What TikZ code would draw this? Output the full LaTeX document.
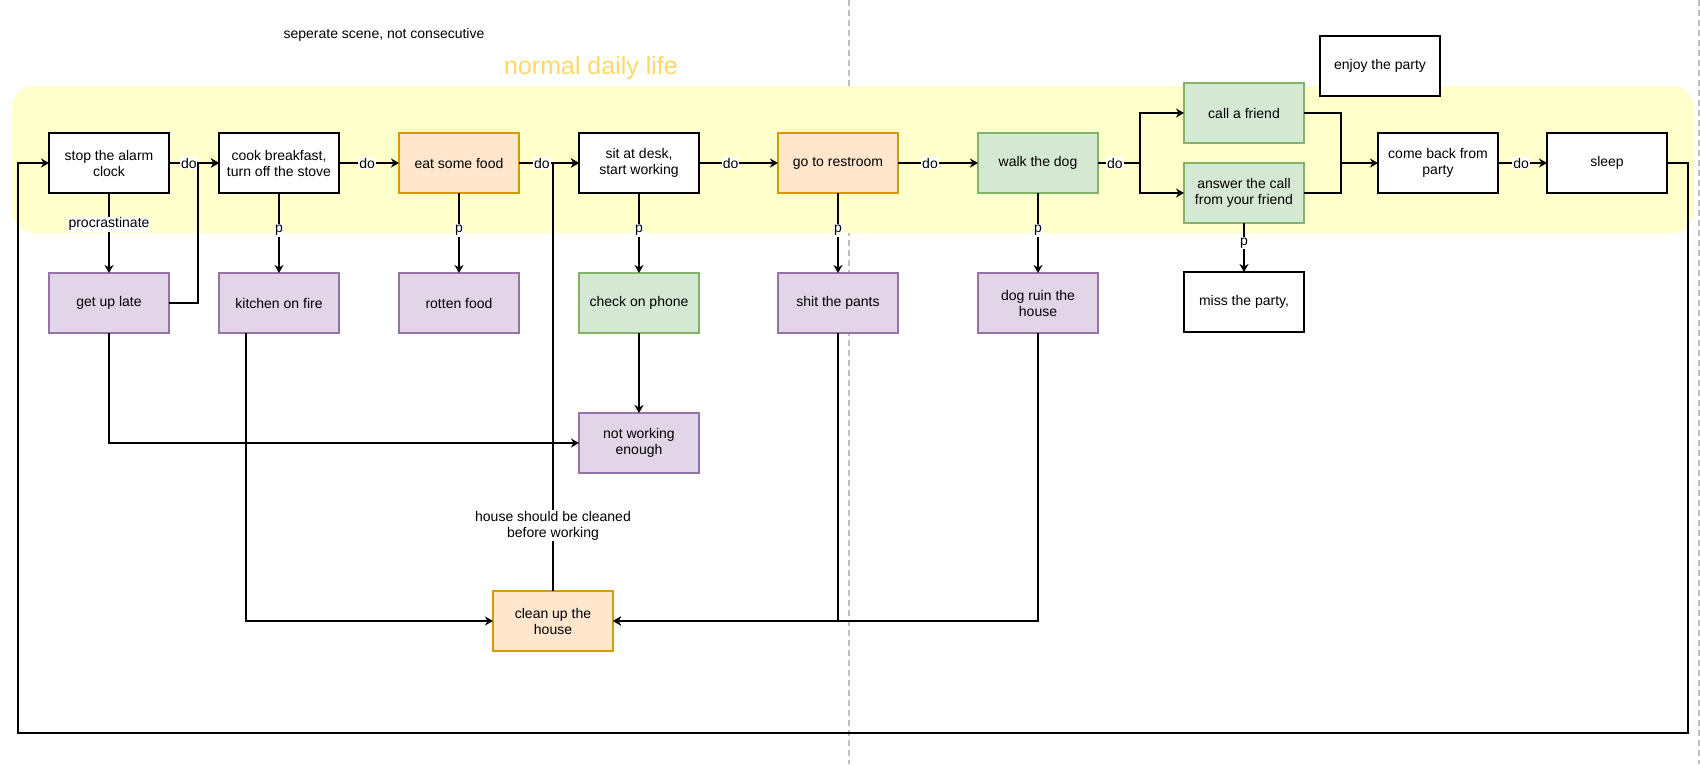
\documentclass[tikz,border=0pt]{standalone}
\usepackage{fontspec}
\setmainfont{Liberation Sans}
\usepackage{tikz}
\usetikzlibrary{arrows.meta,positioning,calc}
\definecolor{ink}{HTML}{000000}
\definecolor{lanebg}{HTML}{FFFFCC}
\definecolor{lanetitle}{HTML}{FFD966}
\definecolor{divgray}{HTML}{BFBFBF}
\definecolor{mauve}{HTML}{9673A6}
\definecolor{mauvebg}{HTML}{E1D5E7}
\definecolor{ochre}{HTML}{D79B00}
\definecolor{ochrebg}{HTML}{FFE6CC}
\definecolor{sage}{HTML}{82B366}
\definecolor{sagebg}{HTML}{D5E8D4}
\tikzset{
  every node/.style={font=\fontsize{14}{16}\selectfont,text=ink},
  act/.style={draw=ink,fill=white,line width=1.8pt,align=center,minimum width=120pt,minimum height=60pt,inner sep=2pt,outer sep=0pt},
  bad/.style={act,fill=mauvebg,draw=mauve},
  risky/.style={act,fill=ochrebg,draw=ochre},
  good/.style={act,fill=sagebg,draw=sage},
  arrow/.style={-{Stealth[length=8pt,width=9pt,inset=2.5pt]},line width=1.8pt,draw=ink},
  link/.style={line width=1.8pt,draw=ink},
  labelbox/.style={fill=white,inner sep=1pt,align=center},
  lane/.style={fill=lanebg,rounded corners=22pt,minimum width=1682pt,minimum height=147pt},
  divider/.style={draw=divgray,line width=2pt,dash pattern=on 6pt off 4pt}
}

\begin{document}
\begin{tikzpicture}[x=1pt,y=-1pt]
  \useasboundingbox (0,0) rectangle (1700,764);
  \draw[divider] (849,0) -- (849,764);
  \draw[divider] (1699,0) -- (1699,764);
  \node[lane] (life) at (853,159.5) {};
  \node (scene) at (384,35) {seperate scene, not consecutive};
  \node[font=\fontsize{25}{30}\selectfont,text=lanetitle] (lifetitle) at (591,68) {normal daily life};

  \node[act] (stop) at (109,163) {stop the alarm\\clock};
  \node[act,right=50pt of stop] (cook) {cook breakfast,\\turn off the stove};
  \node[risky,right=60pt of cook] (eat) {eat some food};
  \node[act,right=60pt of eat] (sit) {sit at desk,\\start working};
  \node[risky,right=79pt of sit] (rest) {go to restroom};
  \node[good,right=80pt of rest] (walk) {walk the dog};
  \node[good] (call) at (1244,113) {call a friend};
  \node[good,below=20pt of call] (answer) {answer the call\\from your friend};
  \node[act,right=280pt of walk] (back) {come back from\\party};
  \node[act,right=49pt of back] (sleep) {sleep};
  \node[act] (enjoy) at (1380,66) {enjoy the party};

  \node[bad,below=80pt of stop] (getup) {get up late};
  \node[bad,below=80pt of cook] (kitchen) {kitchen on fire};
  \node[bad,below=80pt of eat] (rotten) {rotten food};
  \node[good,below=80pt of sit] (phone) {check on phone};
  \node[bad,below=80pt of rest] (pants) {shit the pants};
  \node[bad,below=80pt of walk] (ruin) {dog ruin the\\house};
  \node[act,below=49pt of answer] (miss) {miss the party,};
  \node[bad,below=80pt of phone] (notwork) {not working\\enough};
  \node[risky] (clean) at (553,621) {clean up the\\house};

  \coordinate (split) at ($(walk.east)+(42pt,0)$);
  \coordinate (merge) at ($(back.west)+(-37pt,0)$);
  \coordinate (loopR) at (1688,733);
  \coordinate (loopL) at (18,733);

  \draw[arrow] (stop) -- node[labelbox,pos=0.4] {do} (cook);
  \draw[arrow] (cook) -- node[labelbox,pos=0.47] {do} (eat);
  \draw[arrow] (eat) -- node[labelbox,pos=0.38] {do} (sit);
  \draw[arrow] (sit) -- node[labelbox,pos=0.4] {do} (rest);
  \draw[arrow] (rest) -- node[labelbox,pos=0.4] {do} (walk);
  \draw[link] (walk.east) -- node[labelbox,pos=0.4] {do} (split);
  \draw[arrow] (split) |- (call.west);
  \draw[arrow] (split) |- (answer.west);
  \draw[link] (call.east) -| (merge);
  \draw[link] (answer.east) -| (merge);
  \draw[arrow] (merge) -- (back.west);
  \draw[arrow] (back) -- node[labelbox,pos=0.47] {do} (sleep);
  \draw[arrow] (sleep.east) -| (loopR) -- (loopL) |- (stop.west);

  \draw[arrow] (stop) -- node[labelbox,pos=0.39] {procrastinate} (getup);
  \draw[arrow] (getup.east) -- ++(29pt,0) |- (cook.west);
  \draw[arrow] (cook) -- node[labelbox,pos=0.47] {p} (kitchen);
  \draw[arrow] (eat) -- node[labelbox,pos=0.47] {p} (rotten);
  \draw[arrow] (sit) -- node[labelbox,pos=0.47] {p} (phone);
  \draw[arrow] (rest) -- node[labelbox,pos=0.47] {p} (pants);
  \draw[arrow] (walk) -- node[labelbox,pos=0.47] {p} (ruin);
  \draw[arrow] (answer) -- node[labelbox,pos=0.41] {p} (miss);
  \draw[arrow] (phone) -- (notwork);
  \draw[arrow] (getup.south) |- (notwork.west);
  \draw[arrow] ([xshift=-33pt]kitchen.south) |- (clean.west);
  \draw[arrow] (pants.south) |- (clean.east);
  \draw[arrow] (ruin.south) |- (clean.east);
  \draw[arrow] (clean.north) |- node[labelbox,pos=0.076] {house should be cleaned\\before working} (sit.west);
\end{tikzpicture}
\end{document}
